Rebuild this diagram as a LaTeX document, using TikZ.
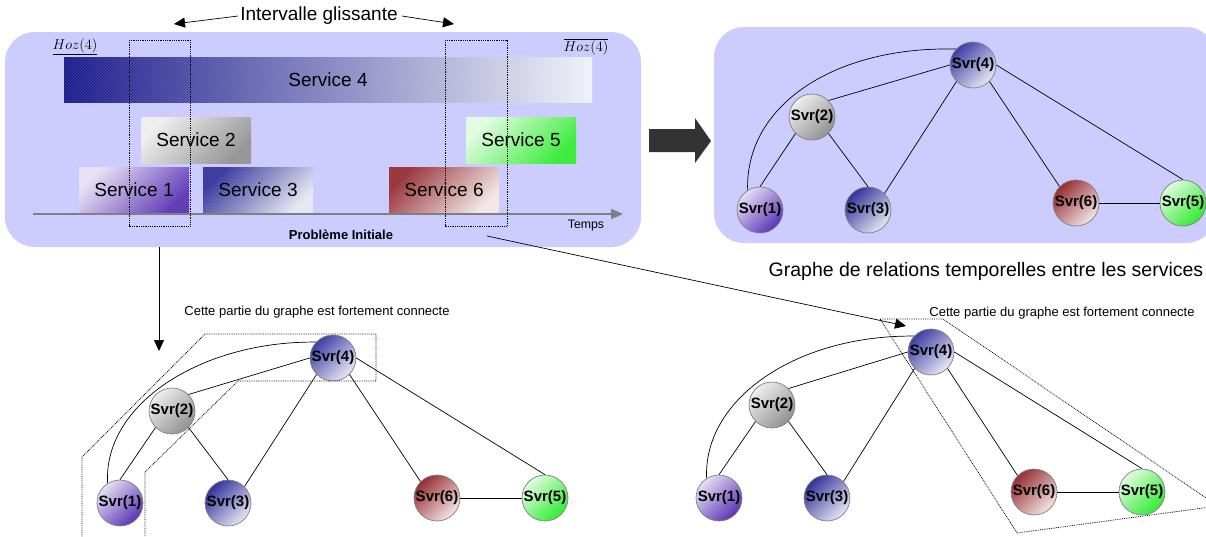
\documentclass[tikz,border=0pt]{standalone}
\usepackage{fontspec}
\setmainfont{Liberation Sans}
\usetikzlibrary{arrows.meta,shapes.geometric,patterns}
\definecolor{panel}{RGB}{204,204,255}
\definecolor{navy}{RGB}{22,22,138}
\definecolor{svgray}{RGB}{145,145,145}
\definecolor{svgreen}{RGB}{50,235,50}
\definecolor{svpurple}{RGB}{90,50,180}
\definecolor{svblue}{RGB}{50,50,155}
\definecolor{nodeblue}{RGB}{62,62,165}
\definecolor{svred}{RGB}{150,45,50}
\definecolor{bigarrow}{RGB}{51,51,51}
\begin{document}
\begin{tikzpicture}[x=1pt,y=-1pt,
  panelbox/.style={fill=panel, rounded corners=30pt},
  hatch/.style={postaction={pattern=north east lines, pattern color=white, opacity=0.18}},
  svc/.style={inner sep=0pt, minimum width=110pt, minimum height=46pt, font=\fontsize{19}{19}\selectfont, hatch},
  g1/.style={top color=#1!15!white, bottom color=#1, shading angle=45},
  g2/.style={top color=#1, bottom color=#1!12!white, shading angle=45},
  svr/.style={circle, draw=gray, line width=0.7pt, minimum size=46pt, inner sep=0pt, font=\fontsize{15}{15}\selectfont\bfseries},
  edge/.style={line width=0.7pt, black},
  dotbox/.style={densely dotted, line width=0.8pt, black},
  arr/.style={line width=0.7pt, -{Triangle[length=11pt,width=10pt]}},
  note/.style={font=\fontsize{13}{13}\selectfont, inner sep=0pt}
]
\useasboundingbox (0,0) rectangle (1206,536);

% ---------- top-left panel ----------
\fill[panelbox] (5,32) rectangle (641,247);
\node[inner sep=0pt, font=\fontsize{13.5}{13.5}\selectfont] (hozl) at (75,47) {$\underline{Hoz(4)}$};
\node[inner sep=0pt, font=\fontsize{13.5}{13.5}\selectfont] (hozr) at (586,47) {$\overline{Hoz(4)}$};

\node[svc, minimum width=528pt, minimum height=45pt, left color=navy, right color=navy!6!white] (s4) at (328,80) {Service 4};
\node[svc, g1=svgray] (s2) at (196,140) {Service 2};
\node[svc, g1=svgreen] (s5) at (521,140) {Service 5};
\node[svc, g1=svpurple] (s1) at (134,190) {Service 1};
\node[svc, g2=svblue] (s3) at (258,190) {Service 3};
\node[svc, g2=svred] (s6) at (444,190) {Service 6};

\coordinate (ax0) at (33,214);
\coordinate (ax1) at (623,214);
\draw[line width=2pt, gray, -{Triangle[length=12pt,width=10pt]}] (ax0) -- (ax1);
\node[inner sep=0pt, font=\fontsize{12.3}{12}\selectfont] (temps) at (586,226) {Temps};
\node[inner sep=0pt, font=\fontsize{13}{13}\selectfont\bfseries] (prob) at (341,235) {Problème Initiale};

\draw[dotbox] (129,40) rectangle (190,226);
\draw[dotbox] (445,40) rectangle (507,226);

\node[inner sep=0pt, font=\fontsize{19}{19}\selectfont] (ig) at (319,16) {Intervalle glissante};
\coordinate (igl) at (174,24);
\coordinate (igr) at (454,24);
\draw[arr] (ig.west) ++(-2,0) -- (igl);
\draw[arr] (ig.east) ++(4,0) -- (igr);

% ---------- big arrow ----------
\fill[bigarrow] (649,129) -- (695,129) -- (695,118) -- (711,141) -- (695,163) -- (695,152) -- (649,152) -- cycle;

% ---------- top-right panel ----------
\fill[panelbox] (714,27) rectangle (1216,243);
\node[svr, g2=nodeblue] (r4) at (973,65) {Svr(4)};
\node[svr, g1=svgray] (r2) at (812,117) {Svr(2)};
\node[svr, g1=svpurple] (r1) at (760,210) {Svr(1)};
\node[svr, g2=svblue] (r3) at (868,210) {Svr(3)};
\node[svr, g2=svred] (r6) at (1076,203) {Svr(6)};
\node[svr, g1=svgreen] (r5) at (1183,203) {Svr(5)};
\draw[edge] (r4.west) -- (r2.north east);
\draw[edge] (r4.south west) -- (r3.north east);
\draw[edge] (r4.south east) -- (r6.north west);
\draw[edge] (r4.east) -- (r5.north);
\draw[edge] (r2.south west) -- (r1.north);
\draw[edge] (r2.south east) -- (r3.north);
\draw[edge] (r6.east) -- (r5.west);
\draw[edge] (r1.122) .. controls (745,105) and (835,46) .. (r4.137);
\node[inner sep=0pt, font=\fontsize{19.5}{19.5}\selectfont] (cap) at (986,271) {Graphe de relations temporelles entre les services};

% ---------- bottom-left graph ----------
\node[svr, g2=nodeblue] (b4) at (333,358) {Svr(4)};
\node[svr, g1=svgray] (b2) at (172,411) {Svr(2)};
\node[svr, g1=svpurple] (b1) at (120,503) {Svr(1)};
\node[svr, g2=svblue] (b3) at (228,503) {Svr(3)};
\node[svr, g2=svred] (b6) at (437,498) {Svr(6)};
\node[svr, g1=svgreen] (b5) at (545,498) {Svr(5)};
\draw[edge] (b4.west) -- (b2.north east);
\draw[edge] (b4.south west) -- (b3.north east);
\draw[edge] (b4.south east) -- (b6.north west);
\draw[edge] (b4.east) -- (b5.north);
\draw[edge] (b2.south west) -- (b1.north);
\draw[edge] (b2.south east) -- (b3.north);
\draw[edge] (b6.east) -- (b5.west);
\draw[edge] (b1.122) .. controls (103,405) and (200,341) .. (b4.137);
\draw[dotbox] (82,540) -- (82,457) -- (205,334) -- (376,334) -- (376,381) -- (238,381) -- (145,472) -- (145,540);
\node[note] (nl) at (317,312) {Cette partie du graphe est fortement connecte};

% ---------- bottom-right graph ----------
\node[svr, g2=nodeblue] (c4) at (931,352) {Svr(4)};
\node[svr, g1=svgray] (c2) at (772,405) {Svr(2)};
\node[svr, g1=svpurple] (c1) at (719,498) {Svr(1)};
\node[svr, g2=svblue] (c3) at (827,498) {Svr(3)};
\node[svr, g2=svred] (c6) at (1034,492) {Svr(6)};
\node[svr, g1=svgreen] (c5) at (1142,492) {Svr(5)};
\draw[edge] (c4.west) -- (c2.north east);
\draw[edge] (c4.south west) -- (c3.north east);
\draw[edge] (c4.south east) -- (c6.north west);
\draw[edge] (c4.east) -- (c5.north);
\draw[edge] (c2.south west) -- (c1.north);
\draw[edge] (c2.south east) -- (c3.north);
\draw[edge] (c6.east) -- (c5.west);
\draw[edge] (c1.122) .. controls (703,400) and (795,335) .. (c4.137);
\draw[dotbox] (880,319) -- (943,319) -- (1218,506) -- (1017,533) -- cycle;
\node[note] (nr) at (1062,313) {Cette partie du graphe est fortement connecte};

% ---------- connecting arrows ----------
\coordinate (a1s) at (159,247);
\coordinate (a1e) at (159,351);
\draw[arr] (a1s) -- (a1e);
\coordinate (a2s) at (487,236);
\coordinate (a2e) at (906,326);
\draw[arr] (a2s) -- (a2e);
\end{tikzpicture}
\end{document}
